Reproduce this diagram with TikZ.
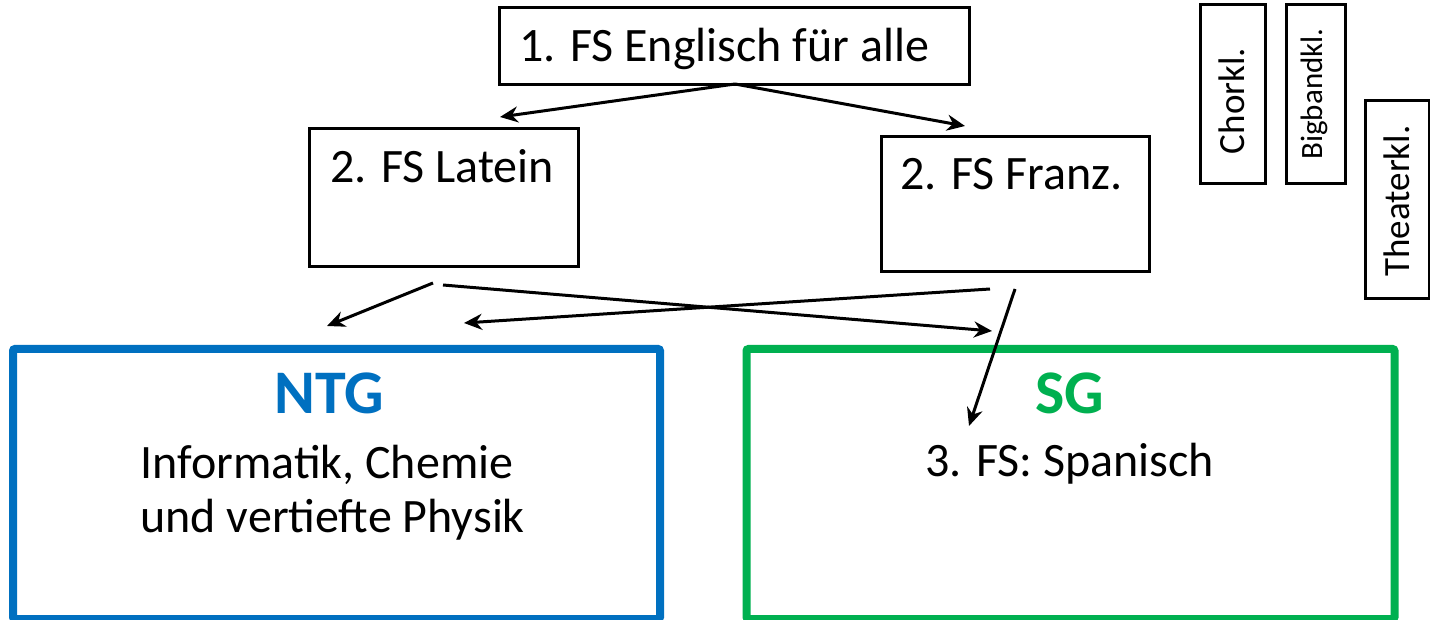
\documentclass[tikz,border=0pt]{standalone}
\usepackage{fontspec}
\setmainfont{Carlito}
\usetikzlibrary{arrows.meta}
\definecolor{ntgblue}{HTML}{0070C0}
\definecolor{sggreen}{HTML}{00B050}
\begin{document}
\begin{tikzpicture}[x=0.5pt,y=-0.5pt,
  box/.style={draw=black, line width=1.5pt, inner sep=0pt, anchor=north west},
  bigbox/.style={draw, line width=4pt, inner sep=0pt, anchor=north west, minimum height=135pt, rounded corners=1pt},
  lbl/.style={inner sep=0pt, anchor=base west, font=\fontsize{24}{28}\selectfont},
  title/.style={inner sep=0pt, anchor=base, font=\fontsize{31}{36}\selectfont\bfseries},
  vlbl/.style={inner sep=0pt, rotate=90, font=\fontsize{18.5}{22}\selectfont},
  arr/.style={line width=1.5pt, -{Stealth[length=9pt,width=8pt]}}]
\useasboundingbox (0,0) rectangle (1430,620);
% boxes
\node[box, minimum width=235pt, minimum height=38.5pt] (eng) at (498,6) {};
\node[box, minimum width=134.5pt, minimum height=69pt] (lat) at (308,127) {};
\node[box, minimum width=134pt, minimum height=67.5pt] (fra) at (880,135) {};
\node[box, minimum width=32.5pt, minimum height=89.5pt] (chor) at (1199,3) {};
\node[box, minimum width=29.5pt, minimum height=89.5pt] (big) at (1285,3) {};
\node[box, minimum width=32pt, minimum height=99pt] (thea) at (1364,99) {};
\node[bigbox, draw=ntgblue, minimum width=323.5pt] (ntg) at (9,345) {};
\node[bigbox, draw=sggreen, minimum width=324pt] (sg) at (742.5,345) {};
% texts
\node[lbl] (engt) at (519,62) {1. FS Englisch für alle};
\node[lbl] (latt) at (330,183) {2. FS Latein};
\node[lbl] (frat) at (900,190) {2. FS Franz.};
\node[vlbl] (chort) at (1232,101) {Chorkl.};
\node[vlbl, font=\fontsize{15.5}{19}\selectfont] (bigt) at (1314,94) {Bigbandkl.};
\node[vlbl] (theat) at (1397,201) {Theaterkl.};
\node[title, text=ntgblue] (ntgt) at (329,413) {NTG};
\node[lbl] (ntgs1) at (140,478) {Informatik, Chemie};
\node[lbl] (ntgs2) at (140,532) {und vertiefte Physik};
\node[title, text=sggreen] (sgt) at (1070,413) {SG};
\node[lbl] (sgs) at (925,476) {3. FS: Spanisch};
% arrow anchor points
\coordinate (e0) at (735,84);
\coordinate (l1) at (500,117);
\coordinate (f1) at (965,126);
\coordinate (la) at (433,283);
\coordinate (lb) at (443,285);
\coordinate (fa) at (990,289);
\coordinate (fb) at (1015,289);
\coordinate (n1) at (327,326);
\coordinate (n2) at (464,323);
\coordinate (s1) at (992,331);
\coordinate (s2) at (969,426);
\draw[arr] (e0) -- (l1);
\draw[arr] (e0) -- (f1);
\draw[arr] (la) -- (n1);
\draw[arr] (lb) -- (s1);
\draw[arr] (fa) -- (n2);
\draw[arr] (fb) -- (s2);
\end{tikzpicture}
\end{document}
